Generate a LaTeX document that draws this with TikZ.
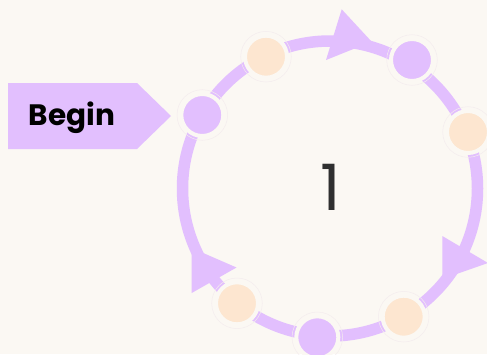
\documentclass[tikz,border=0pt]{standalone}
\usepackage{fontspec}
\setmainfont{Poppins}
\definecolor{bgcream}{HTML}{FBF8F3}
\definecolor{lilac}{HTML}{E2BFFE}
\definecolor{peach}{HTML}{FDE6D0}
\definecolor{halo}{HTML}{F4ECEE}
\definecolor{numgray}{HTML}{2F2F2F}
\tikzset{
  ringline/.style={draw=lilac, line width=11.5pt},
  tiphead/.style={fill=lilac},
  stopdot/.style={circle, minimum size=42pt, inner sep=0pt, fill=#1,
    draw=bgcream, line width=4pt,
    append after command={
      \pgfextra{\draw[halo, line width=0.5pt]
        (\tikzlastnode.center) circle[radius=25.3pt];}}},
  beginflag/.style={fill=lilac},
}
\begin{document}
\begin{tikzpicture}[x=1pt, y=-1pt]
  % canvas
  \fill[bgcream] (0,0) rectangle (487,354);
  \useasboundingbox (0,0) rectangle (487,354);

  % cycle ring
  \coordinate (hub) at (330,188.5);
  \draw[ringline] (hub) circle[radius=147.5pt];

  % direction heads on the ring
  \fill[tiphead] (341.7,9.3) -- (371.7,41.7) -- (326,60) -- cycle;
  \fill[tiphead] (442.3,236) -- (488,263) -- (442.3,279) -- cycle;
  \fill[tiphead] (191.7,248) -- (236.5,267.5) -- (191.7,293) -- cycle;

  % stations around the cycle
  \node[stopdot=lilac] (s1) at (202.3,115) {};
  \node[stopdot=peach] (s2) at (266,56.7) {};
  \node[stopdot=lilac] (s3) at (412,60) {};
  \node[stopdot=peach] (s4) at (468,132) {};
  \node[stopdot=peach] (s5) at (403.7,316.7) {};
  \node[stopdot=lilac] (s6) at (317.3,337.3) {};
  \node[stopdot=peach] (s7) at (237,303.3) {};

  % entry flag
  \fill[beginflag] (8,83) -- (137,83) -- (171,116) -- (137,149) -- (8,149) -- cycle;
  \node[font=\bfseries\fontsize{29.5}{31}\selectfont, text=black, anchor=base]
    (start) at (72,125) {Begin};

  % cycle counter
  \node[font=\fontsize{64}{66}\selectfont, text=numgray, anchor=base]
    (count) at (330.5,210.5) {1};
\end{tikzpicture}
\end{document}
